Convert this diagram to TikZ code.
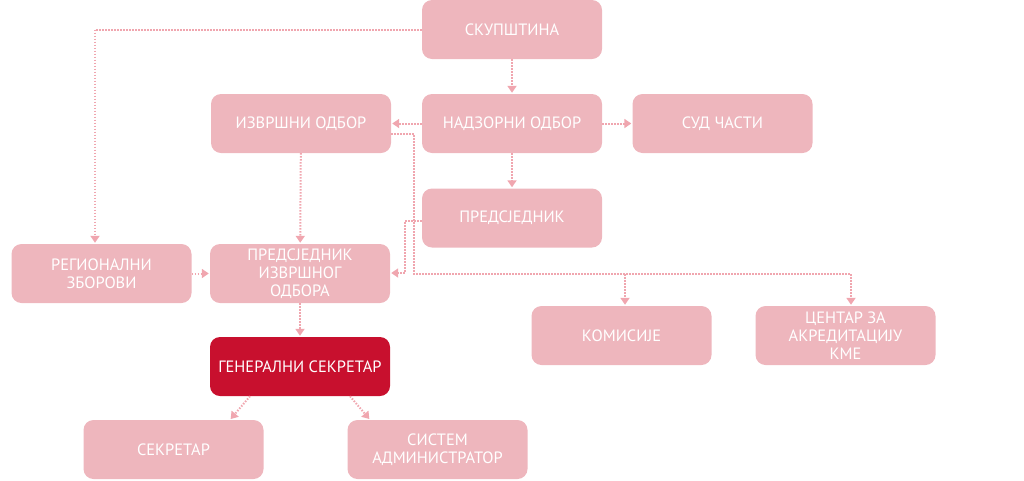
\documentclass[tikz,border=0pt]{standalone}
\usepackage{fontspec}
\setmainfont{PT Sans}
\usepackage{tikz}
\usetikzlibrary{arrows.meta}
\definecolor{cBox}{HTML}{EEB6BD}
\definecolor{cGen}{HTML}{C8102E}
\definecolor{cLink}{HTML}{F0A6AF}
\tikzset{
  box/.style={fill=cBox, rounded corners=10pt, minimum width=180pt, minimum height=59pt,
    inner sep=0pt, align=center, text=white, font=\fontsize{16.4}{18}\selectfont},
  genbox/.style={box, fill=cGen},
  link/.style={cLink, line width=2pt, dash pattern=on 1.5pt off 1.5pt,
    -{Triangle[width=9pt,length=7pt]}, shorten >=1pt},
  plain/.style={cLink, line width=2pt, dash pattern=on 1.5pt off 1.5pt},
}

\begin{document}
\begin{tikzpicture}[x=1pt,y=-1pt]
\useasboundingbox (0,0) rectangle (1024,480);
\node[box] (skup) at (512,29.5) {СКУПШТИНА};
\node[box] (izv) at (301,123.5) {ИЗВРШНИ ОДБОР};
\node[box] (nadz) at (512,123.5) {НАДЗОРНИ ОДБОР};
\node[box] (sud) at (722.5,123.5) {СУД ЧАСТИ};
\node[box] (pred) at (512,218) {ПРЕДСЈЕДНИК};
\node[box] (reg) at (101.5,273.5) {РЕГИОНАЛНИ\\ЗБОРОВИ};
\node[box] (pio) at (300,273.5) {ПРЕДСЈЕДНИК\\ИЗВРШНОГ\\ОДБОРА};
\node[box] (kom) at (621.5,335.5) {КОМИСИЈЕ};
\node[box] (cent) at (845.5,335.5) {ЦЕНТАР ЗА\\АКРЕДИТАЦИЈУ\\КМЕ};
\node[genbox] (gen) at (300,366.5) {ГЕНЕРАЛНИ СЕКРЕТАР};
\node[box] (sek) at (173.5,449.5) {СЕКРЕТАР};
\node[box] (sys) at (437.5,449.5) {СИСТЕМ\\АДМИНИСТРАТОР};
\coordinate (jL) at (414,274);
\coordinate (jK) at (625,274);
\coordinate (jR) at (851,274);
\coordinate (jP) at (405,273);
\draw[link] (skup.west) -| ([xshift=-6.5pt]reg.north);
\draw[link] (skup) -- (nadz);
\draw[link] (nadz) -- (izv);
\draw[link] (nadz) -- (sud);
\draw[link] (nadz) -- (pred);
\draw[link] (izv) -- (pio);
\draw[plain] ([yshift=-10.5pt]izv.east) -| (jL) -- (jR);
\draw[link] (jK) -- (jK |- kom.north);
\draw[link] (jR) -- (jR |- cent.north);
\draw[link] ([yshift=-3pt]pred.west) -| (jP) -- (jP -| pio.east);
\draw[link] (reg) -- (pio);
\draw[link] (pio) -- (gen);
\draw[link] ([xshift=-50pt]gen.south) -- ([xshift=56.5pt]sek.north);
\draw[link] ([xshift=50pt]gen.south) -- ([xshift=-67.5pt]sys.north);
\end{tikzpicture}
\end{document}
